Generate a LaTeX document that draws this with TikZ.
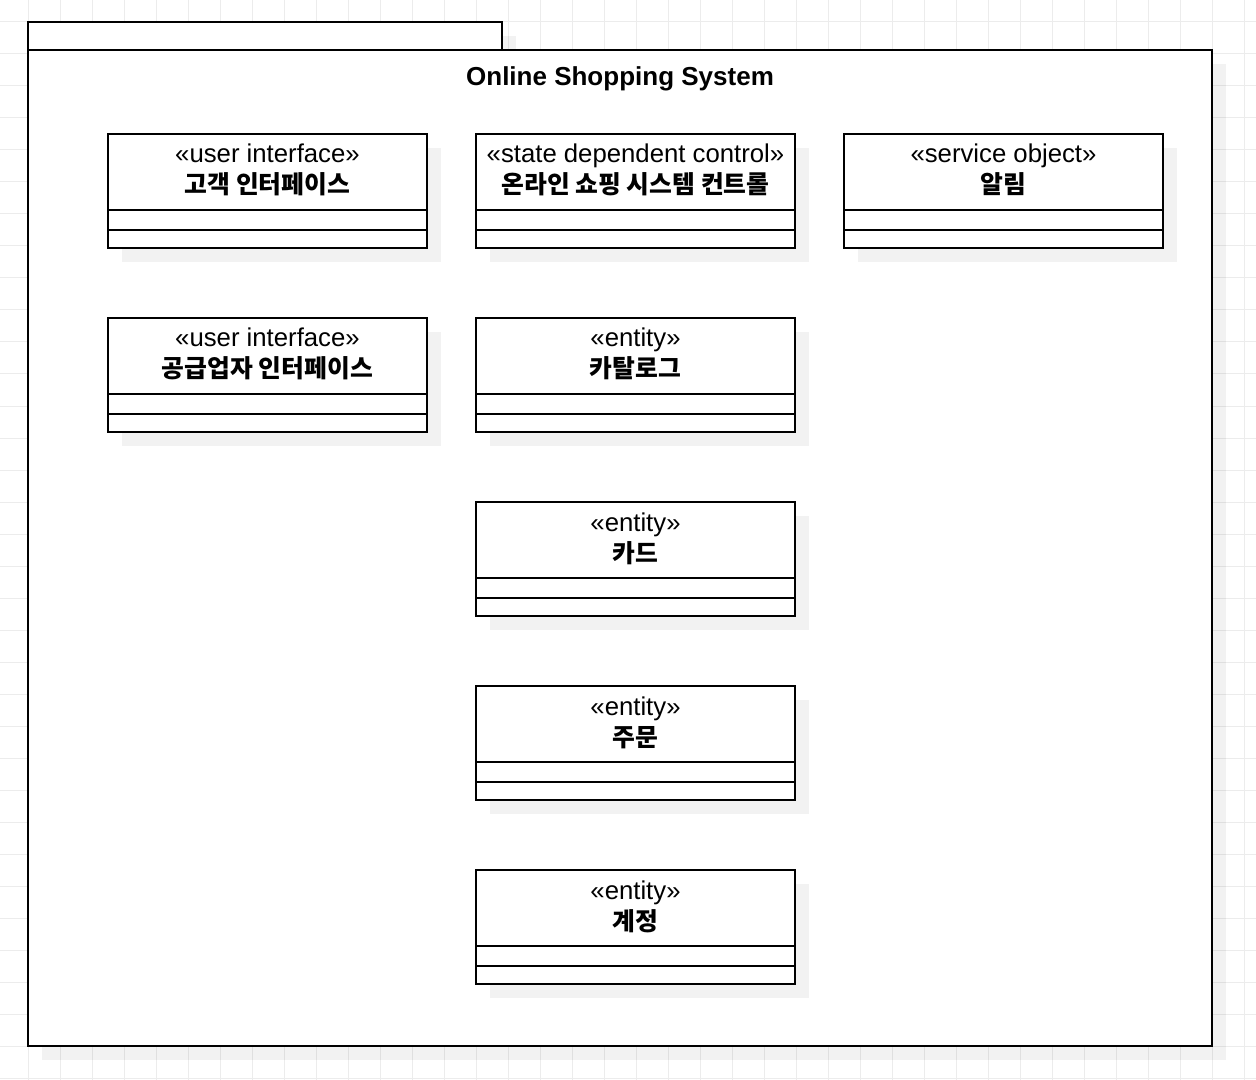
\documentclass[tikz,border=0pt]{standalone}
\usepackage{fontspec}
\setmainfont{Liberation Sans}
\newfontfamily\krfont{Noto Sans CJK KR}
\usepackage{xcolor}

\definecolor{gridgray}{RGB}{236,236,236}

\begin{document}
\begin{tikzpicture}[x=0.75pt,y=0.75pt,yscale=-1,xscale=1,
  shadowbox/.style={fill=black,fill opacity=0.05,draw=none},
  umlbox/.style={draw=black,fill=white,line width=1.2pt},
  stereo/.style={anchor=base,inner sep=0pt,font=\fontsize{19.3}{23}\selectfont},
  clsname/.style={anchor=base,inner sep=0pt,font=\krfont\bfseries\fontsize{18.6}{22}\selectfont}]
\useasboundingbox (0,0) rectangle (1256,1080);

%Grid
\foreach \gx in {28,60,...,1244} \draw[gridgray,line width=0.75pt] (\gx,0) -- (\gx,1080);
\foreach \gy in {22,54,...,1078} \draw[gridgray,line width=0.75pt] (0,\gy) -- (1256,\gy);

%Shape: Package frame
\fill[shadowbox] (42,36) rectangle (516,64);
\fill[shadowbox] (42,64) rectangle (1226,1060);
\draw[umlbox] (28,22) rectangle (502,50);
\draw[umlbox] (28,50) rectangle (1212,1046);
% Text Node
\node[stereo,font=\bfseries\fontsize{19.5}{23}\selectfont] (title) at (620,86) {Online Shopping System};

%Shape: Class 고객 인터페이스
\fill[shadowbox] (122,148) rectangle (441,262);
\draw[umlbox] (108,134) rectangle (427,248);
\draw[line width=1.2pt] (108,210) -- (427,210);
\draw[line width=1.2pt] (108,230) -- (427,230);
\node[stereo] (custUIst) at (267.5,163) {«user interface»};
\node[clsname] (custUI) at (267.5,194) {고객 인터페이스};

%Shape: Class 온라인 쇼핑 시스템 컨트롤
\fill[shadowbox] (490,148) rectangle (809,262);
\draw[umlbox] (476,134) rectangle (795,248);
\draw[line width=1.2pt] (476,210) -- (795,210);
\draw[line width=1.2pt] (476,230) -- (795,230);
\node[stereo] (shopCtrlst) at (635.5,163) {«state dependent control»};
\node[clsname] (shopCtrl) at (635.5,194) {온라인 쇼핑 시스템 컨트롤};

%Shape: Class 알림
\fill[shadowbox] (858,148) rectangle (1177,262);
\draw[umlbox] (844,134) rectangle (1163,248);
\draw[line width=1.2pt] (844,210) -- (1163,210);
\draw[line width=1.2pt] (844,230) -- (1163,230);
\node[stereo] (noticest) at (1003.5,163) {«service object»};
\node[clsname] (notice) at (1003.5,194) {알림};

%Shape: Class 공급업자 인터페이스
\fill[shadowbox] (122,332) rectangle (441,446);
\draw[umlbox] (108,318) rectangle (427,432);
\draw[line width=1.2pt] (108,394) -- (427,394);
\draw[line width=1.2pt] (108,414) -- (427,414);
\node[stereo] (suppUIst) at (267.5,347) {«user interface»};
\node[clsname] (suppUI) at (267.5,378) {공급업자 인터페이스};

%Shape: Class 카탈로그
\fill[shadowbox] (490,332) rectangle (809,446);
\draw[umlbox] (476,318) rectangle (795,432);
\draw[line width=1.2pt] (476,394) -- (795,394);
\draw[line width=1.2pt] (476,414) -- (795,414);
\node[stereo] (catalogst) at (635.5,347) {«entity»};
\node[clsname] (catalog) at (635.5,378) {카탈로그};

%Shape: Class 카드
\fill[shadowbox] (490,516) rectangle (809,630);
\draw[umlbox] (476,502) rectangle (795,616);
\draw[line width=1.2pt] (476,578) -- (795,578);
\draw[line width=1.2pt] (476,598) -- (795,598);
\node[stereo] (cardst) at (635.5,531) {«entity»};
\node[clsname] (card) at (635.5,562) {카드};

%Shape: Class 주문
\fill[shadowbox] (490,700) rectangle (809,814);
\draw[umlbox] (476,686) rectangle (795,800);
\draw[line width=1.2pt] (476,762) -- (795,762);
\draw[line width=1.2pt] (476,782) -- (795,782);
\node[stereo] (orderst) at (635.5,715) {«entity»};
\node[clsname] (order) at (635.5,746) {주문};

%Shape: Class 계정
\fill[shadowbox] (490,884) rectangle (809,998);
\draw[umlbox] (476,870) rectangle (795,984);
\draw[line width=1.2pt] (476,946) -- (795,946);
\draw[line width=1.2pt] (476,966) -- (795,966);
\node[stereo] (accountst) at (635.5,899) {«entity»};
\node[clsname] (account) at (635.5,930) {계정};

\end{tikzpicture}
\end{document}
